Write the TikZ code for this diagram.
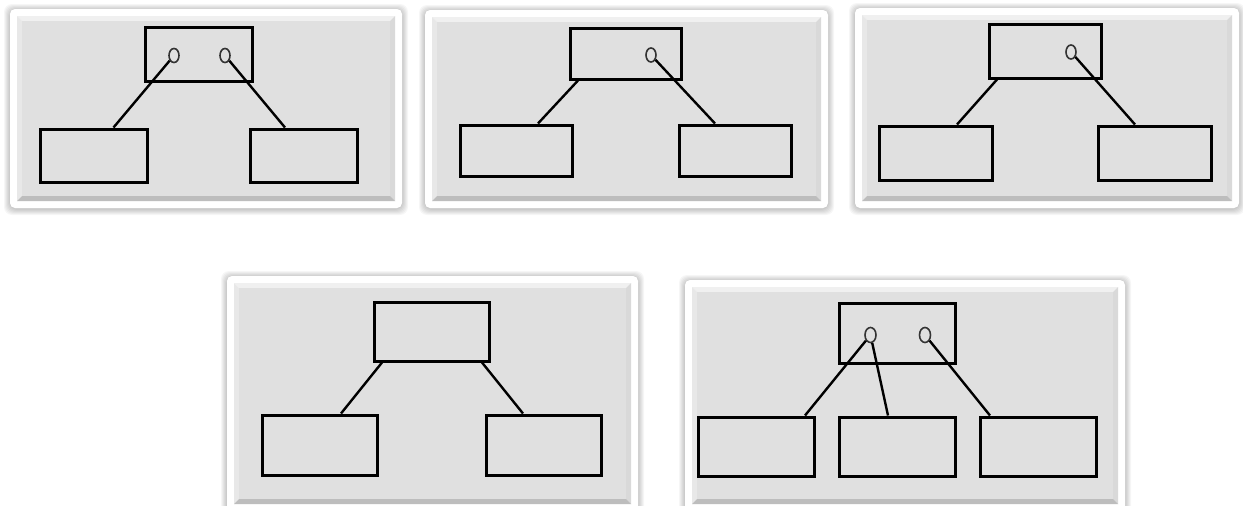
\documentclass[tikz,border=0pt]{standalone}
\usetikzlibrary{calc,shapes.geometric}
\def\panel(#1,#2)(#3,#4){%
	\foreach \s in {1,...,6} {\fill[black, opacity=0.035, rounded corners=8] ({#1-\s},{#2-\s+1}) rectangle ({#3+\s},{#4+\s+1});}
	\fill[white, rounded corners=5] (#1, #2) rectangle (#3, #4);
	\fill[black!6] ({#1+7},{#2+7}) -- ({#3-7},{#2+7}) -- ({#3-12},{#2+12}) -- ({#1+12},{#2+12}) -- cycle;
	\fill[black!9] ({#1+7},{#2+7}) -- ({#1+12},{#2+12}) -- ({#1+12},{#4-12}) -- ({#1+7},{#4-7}) -- cycle;
	\fill[black!15] ({#3-7},{#2+7}) -- ({#3-12},{#2+12}) -- ({#3-12},{#4-12}) -- ({#3-7},{#4-7}) -- cycle;
	\fill[black!26] ({#1+7},{#4-7}) -- ({#3-7},{#4-7}) -- ({#3-12},{#4-12}) -- ({#1+12},{#4-12}) -- cycle;
	\fill[black!12] ({#1+12},{#2+12}) rectangle ({#3-12},{#4-12});
}
\tikzset{
	box/.style={draw, line width=3pt, inner sep=0pt},
	hole/.style={ellipse, draw=black!80, line width=1.6pt, minimum width=10pt, minimum height=14pt, inner sep=0pt},
	link/.style={line width=2.4pt}
}

\begin{document}
\begin{tikzpicture}[x=1pt, y=-1pt]
		%%%%% START %%%%%
		
		\useasboundingbox (0, 0) rectangle (1243, 506);
		\clip (0, 0) rectangle (1243, 506);
		\fill[white] (0, 0) rectangle (1243, 506);
		
		\panel(10, 9)(402, 208)
		\panel(425, 10)(828, 208)
		\panel(855, 8)(1239, 208)
		\panel(227, 276)(638, 511)
		\panel(685, 280)(1125, 511)
		
		% panel 1
		\node[box, minimum width=107, minimum height=54] (top1) at (198.5, 54) {};
		\node[hole] (hole1a) at (174, 55.5) {};
		\node[hole] (hole1b) at (225, 55.5) {};
		\node[box, minimum width=107, minimum height=53] (left1) at (93.5, 155.5) {};
		\node[box, minimum width=107, minimum height=53] (right1) at (303.5, 155.5) {};
		\draw[link] (hole1a) -- ([xshift=20]left1.north);
		\draw[link] (hole1b) -- ([xshift=-18.5]right1.north);
		
		% panel 2
		\node[box, minimum width=111, minimum height=51] (top2) at (625.5, 53.5) {};
		\node[hole] (hole2) at (651, 55) {};
		\node[box, minimum width=112, minimum height=51] (left2) at (516, 150.5) {};
		\node[box, minimum width=112, minimum height=51] (right2) at (735, 150.5) {};
		\draw[link] ([xshift=-47.5]top2.south) -- ([xshift=22]left2.north);
		\draw[link] (hole2) -- ([xshift=-20]right2.north);
		
		% panel 3
		\node[box, minimum width=112, minimum height=54] (top3) at (1045, 51) {};
		\node[hole] (hole3) at (1071, 52) {};
		\node[box, minimum width=113, minimum height=54] (left3) at (935.5, 153) {};
		\node[box, minimum width=113, minimum height=54] (right3) at (1154.5, 153) {};
		\draw[link] ([xshift=-48]top3.south) -- ([xshift=21.5]left3.north);
		\draw[link] (hole3) -- ([xshift=-19.5]right3.north);
		
		% panel 4
		\node[box, minimum width=115, minimum height=59] (top4) at (431.5, 331.5) {};
		\node[box, minimum width=115, minimum height=60] (left4) at (319.5, 445) {};
		\node[box, minimum width=115, minimum height=60] (right4) at (543.5, 445) {};
		\draw[link] ([xshift=-49.5]top4.south) -- ([xshift=21.5]left4.north);
		\draw[link] ([xshift=50.5]top4.south) -- ([xshift=-20.5]right4.north);
		
		% panel 5
		\node[box, minimum width=116, minimum height=60] (top5) at (897, 333) {};
		\node[hole, minimum width=11pt, minimum height=15pt] (hole5a) at (870.5, 335) {};
		\node[hole, minimum width=11pt, minimum height=15pt] (hole5b) at (925, 335) {};
		\node[box, minimum width=116, minimum height=59] (left5) at (756, 446.5) {};
		\node[box, minimum width=116, minimum height=59] (mid5) at (897, 446.5) {};
		\node[box, minimum width=116, minimum height=59] (right5) at (1038, 446.5) {};
		\draw[link] (hole5a) -- ([xshift=49]left5.north);
		\draw[link] (hole5a) -- ([xshift=-9]mid5.north);
		\draw[link] (hole5b) -- ([xshift=-48]right5.north);
		
		%%%%% END %%%%%
\end{tikzpicture}
\end{document}
